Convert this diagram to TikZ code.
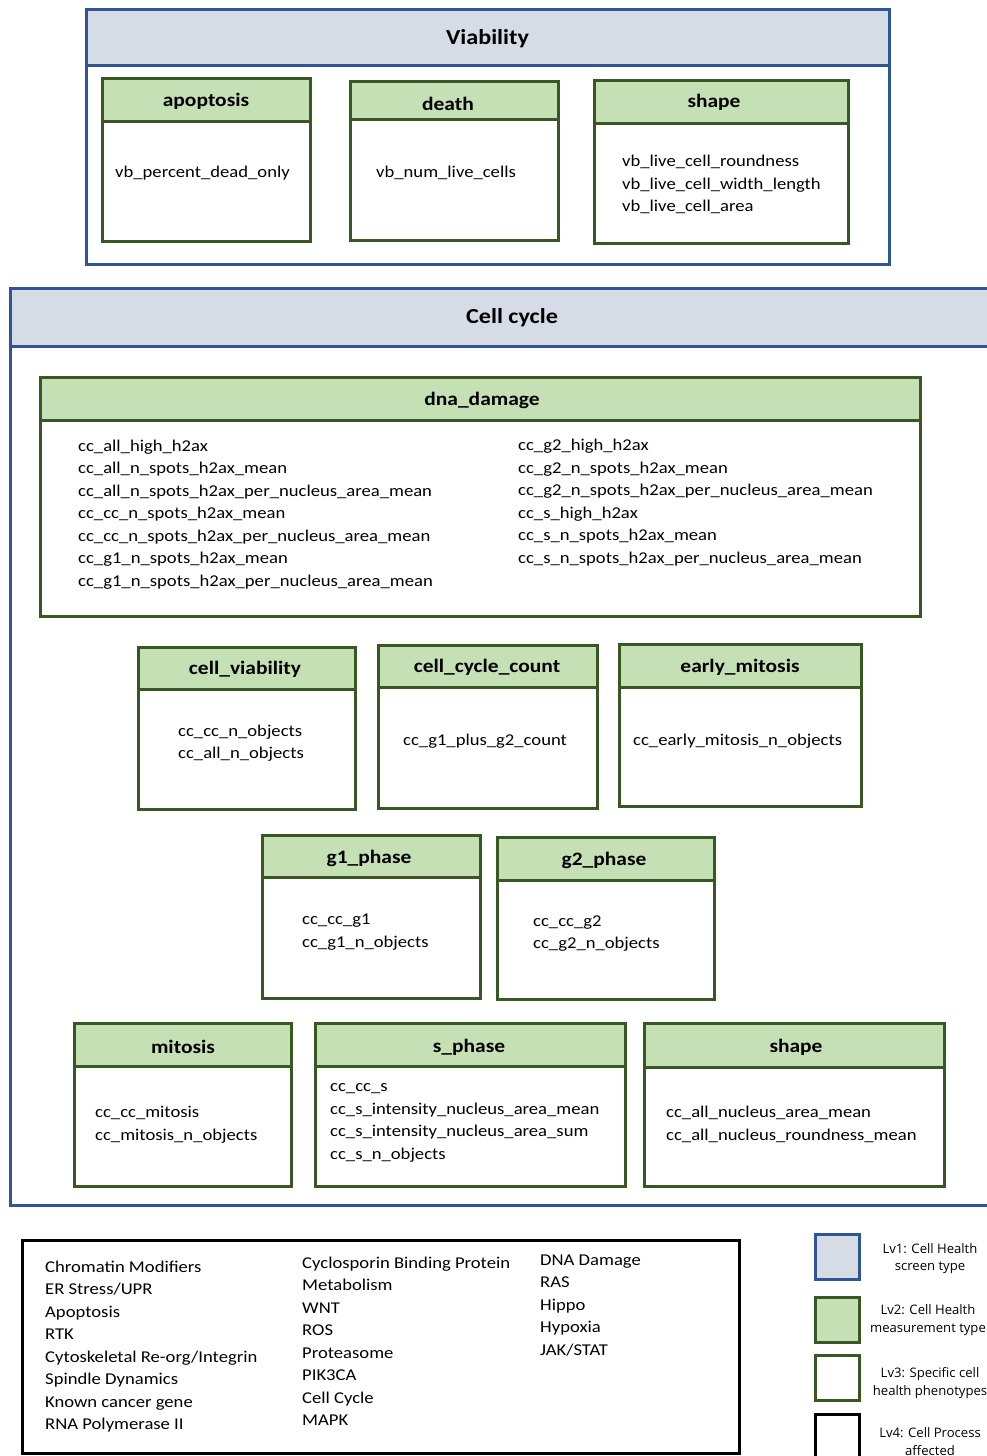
\documentclass[tikz,border=0pt]{standalone}
\usepackage{fontspec}
\setmainfont{Carlito}[FakeStretch=1.13]
\newfontfamily\keyfont{Open Sans}
\definecolor{lvblue}{RGB}{47,85,151}
\definecolor{lvgrey}{RGB}{214,220,229}
\definecolor{lvgreen}{RGB}{197,224,180}
\definecolor{lvdark}{RGB}{56,87,35}
\tikzset{
  screenbox/.style={draw=lvblue, line width=3pt},
  screenhead/.style={draw=lvblue, line width=3pt, fill=lvgrey},
  measbox/.style={draw=lvdark, line width=3pt},
  meashead/.style={draw=lvdark, line width=3pt, fill=lvgreen},
  procbox/.style={draw=black, line width=3pt},
  screentitle/.style={font=\fontsize{21.4}{26}\selectfont\bfseries, yshift=-2pt},
  headtitle/.style={font=\fontsize{19}{23}\selectfont\bfseries, yshift=-2pt},
  feat/.style={font=\fontsize{16.5}{22.5}\selectfont, align=left, inner sep=0pt, anchor=west, yshift=-2pt},
  keytext/.style={font=\keyfont\fontsize{13.1}{17.5}\selectfont, align=center, yshift=-2pt},
}
\begin{document}
\begin{tikzpicture}[x=1pt, y=-1pt]
    \useasboundingbox (0,0) rectangle (987,1456);
    \clip (0,0) rectangle (987,1456);

    % Viability
    \draw[screenhead] (86,9) rectangle (889,65);
    \draw[screenbox] (86,9) rectangle (889,264);
    \node[screentitle] (viability) at (487.5,37) {Viability};

    \draw[measbox] (102,78) rectangle (310,241);
    \draw[meashead] (102,78) rectangle (310,121);
    \node[headtitle] (apoptosis) at (206,99.5) {apoptosis};
    \node[feat] (apoptosisfeat) at (115,171) {vb\_percent\_dead\_only};

    \draw[measbox] (350,81) rectangle (558,240);
    \draw[meashead] (350,81) rectangle (558,119);
    \node[headtitle] (death) at (448,101.5) {death};
    \node[feat] (deathfeat) at (376,171) {vb\_num\_live\_cells};

    \draw[measbox] (594,80) rectangle (848,243);
    \draw[meashead] (594,80) rectangle (848,123);
    \node[headtitle] (vbshape) at (714,100) {shape};
    \node[feat] (vbshapefeat) at (622,182.5) {vb\_live\_cell\_roundness\\vb\_live\_cell\_width\_length\\vb\_live\_cell\_area};

    % Cell cycle
    \draw[screenhead] (10,288) rectangle (1010,346);
    \draw[screenbox] (10,288) rectangle (1010,1205);
    \node[screentitle] (cellcycle) at (512,316) {Cell cycle};

    \draw[measbox] (40,377) rectangle (920,616);
    \draw[meashead] (40,377) rectangle (920,420);
    \node[headtitle] (dnadamage) at (482,398) {dna\_damage};
    \node[feat] (dnaleft) at (78,512.5) {cc\_all\_high\_h2ax\\cc\_all\_n\_spots\_h2ax\_mean\\cc\_all\_n\_spots\_h2ax\_per\_nucleus\_area\_mean\\cc\_cc\_n\_spots\_h2ax\_mean\\cc\_cc\_n\_spots\_h2ax\_per\_nucleus\_area\_mean\\cc\_g1\_n\_spots\_h2ax\_mean\\cc\_g1\_n\_spots\_h2ax\_per\_nucleus\_area\_mean};
    \node[feat] (dnaright) at (518,500.5) {cc\_g2\_high\_h2ax\\cc\_g2\_n\_spots\_h2ax\_mean\\cc\_g2\_n\_spots\_h2ax\_per\_nucleus\_area\_mean\\cc\_s\_high\_h2ax\\cc\_s\_n\_spots\_h2ax\_mean\\cc\_s\_n\_spots\_h2ax\_per\_nucleus\_area\_mean};

    \draw[measbox] (138,647) rectangle (355,809);
    \draw[meashead] (138,647) rectangle (355,689);
    \node[headtitle] (cellviability) at (245,667) {cell\_viability};
    \node[feat] (cellviabilityfeat) at (178,741) {cc\_cc\_n\_objects\\cc\_all\_n\_objects};

    \draw[measbox] (378,645) rectangle (597,808);
    \draw[meashead] (378,645) rectangle (597,687);
    \node[headtitle] (cellcyclecount) at (487,665) {cell\_cycle\_count};
    \node[feat] (cellcyclecountfeat) at (403,739) {cc\_g1\_plus\_g2\_count};

    \draw[measbox] (619,644) rectangle (861,806);
    \draw[meashead] (619,644) rectangle (861,687);
    \node[headtitle] (earlymitosis) at (740,665) {early\_mitosis};
    \node[feat] (earlymitosisfeat) at (633,739) {cc\_early\_mitosis\_n\_objects};

    \draw[measbox] (262,835) rectangle (480,998);
    \draw[meashead] (262,835) rectangle (480,877);
    \node[headtitle] (gonephase) at (369,856) {g1\_phase};
    \node[feat] (gonephasefeat) at (302,930) {cc\_cc\_g1\\cc\_g1\_n\_objects};

    \draw[measbox] (497,837) rectangle (714,999);
    \draw[meashead] (497,837) rectangle (714,880);
    \node[headtitle] (gtwophase) at (604,858) {g2\_phase};
    \node[feat] (gtwophasefeat) at (533,931.5) {cc\_cc\_g2\\cc\_g2\_n\_objects};

    \draw[measbox] (74,1023) rectangle (291,1186);
    \draw[meashead] (74,1023) rectangle (291,1066);
    \node[headtitle] (mitosis) at (183,1045) {mitosis};
    \node[feat] (mitosisfeat) at (95,1122.5) {cc\_cc\_mitosis\\cc\_mitosis\_n\_objects};

    \draw[measbox] (315,1023) rectangle (625,1186);
    \draw[meashead] (315,1023) rectangle (625,1066);
    \node[headtitle] (sphase) at (469,1045) {s\_phase};
    \node[feat] (sphasefeat) at (330,1121) {cc\_cc\_s\\cc\_s\_intensity\_nucleus\_area\_mean\\cc\_s\_intensity\_nucleus\_area\_sum\\cc\_s\_n\_objects};

    \draw[measbox] (644,1023) rectangle (944,1186);
    \draw[meashead] (644,1023) rectangle (944,1067);
    \node[headtitle] (ccshape) at (796,1045) {shape};
    \node[feat] (ccshapefeat) at (666,1122.5) {cc\_all\_nucleus\_area\_mean\\cc\_all\_nucleus\_roundness\_mean};

    % Cell processes
    \draw[procbox] (22,1240) rectangle (739,1453);
    \node[feat] (processesa) at (45,1344.5) {Chromatin Modifiers\\ER Stress/UPR\\Apoptosis\\RTK\\Cytoskeletal Re-org/Integrin\\Spindle Dynamics\\Known cancer gene\\RNA Polymerase II};
    \node[feat] (processesb) at (302,1339.5) {Cyclosporin Binding Protein\\Metabolism\\WNT\\ROS\\Proteasome\\PIK3CA\\Cell Cycle\\MAPK};
    \node[feat] (processesc) at (540,1303.5) {DNA Damage\\RAS\\Hippo\\Hypoxia\\JAK/STAT};

    % Legend
    \draw[screenhead] (815,1234) rectangle (859,1279);
    \node[keytext] (keyone) at (930,1256.5) {Lv1: Cell Health\\screen type};
    \draw[meashead] (815,1297) rectangle (859,1342);
    \node[keytext] (keytwo) at (928,1318) {Lv2: Cell Health\\measurement type};
    \draw[measbox] (815,1355) rectangle (859,1400);
    \node[keytext] (keythree) at (930,1381) {Lv3: Specific cell\\health phenotypes};
    \draw[procbox] (815,1414) rectangle (859,1470);
    \node[keytext] (keyfour) at (930,1439.5) {Lv4: Cell Process\\affected};
\end{tikzpicture}
\end{document}
